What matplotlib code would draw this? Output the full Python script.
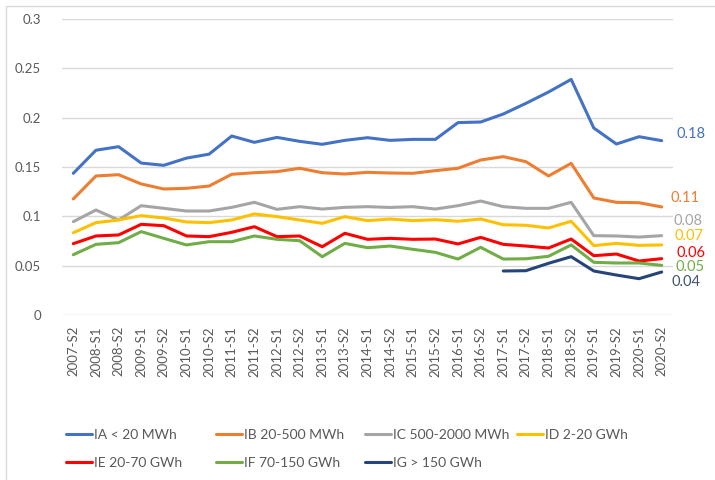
import matplotlib.pyplot as plt
from matplotlib.patches import Rectangle

plt.rcParams['font.family'] = ['Lato', 'DejaVu Sans']

periods = ['2007-S2'] + [f'{y}-S{h}' for y in range(2008, 2021) for h in (1, 2)]

ia = [0.1436, 0.167, 0.1706, 0.154, 0.1517, 0.159, 0.163, 0.1814, 0.175, 0.180,
      0.176, 0.173, 0.177, 0.1797, 0.177, 0.178, 0.178, 0.195, 0.1956, 0.2037,
      0.2145, 0.226, 0.2388, 0.1895, 0.1733, 0.1807, 0.1767]
ib = [0.1176, 0.1409, 0.1422, 0.1328, 0.1277, 0.1284, 0.1307, 0.1426, 0.1442, 0.1453,
      0.1487, 0.1442, 0.1429, 0.1446, 0.1439, 0.1436, 0.1463, 0.1487, 0.1571, 0.1605,
      0.1554, 0.1409, 0.1537, 0.1186, 0.1142, 0.1138, 0.1095]
ic = [0.0946, 0.1064, 0.0963, 0.1108, 0.1081, 0.1054, 0.1054, 0.1091, 0.1142, 0.1071,
      0.1098, 0.1074, 0.1091, 0.1098, 0.109, 0.1098, 0.1074, 0.1108, 0.1155, 0.1098,
      0.1081, 0.1081, 0.1142, 0.0804, 0.0801, 0.079, 0.0804]
id_ = [0.0834, 0.0936, 0.0963, 0.1007, 0.0983, 0.0943, 0.0936, 0.0963, 0.1024, 0.0997,
       0.0963, 0.0929, 0.0997, 0.0956, 0.0973, 0.0956, 0.0966, 0.095, 0.0973, 0.0915,
       0.0909, 0.0882, 0.095, 0.0703, 0.0726, 0.0706, 0.071]
ie = [0.0723, 0.0801, 0.0811, 0.0919, 0.0905, 0.0801, 0.0794, 0.0838, 0.0895, 0.0794,
      0.0801, 0.0692, 0.0828, 0.0767, 0.0777, 0.0767, 0.077, 0.072, 0.0787, 0.0716,
      0.0699, 0.0679, 0.077, 0.0601, 0.0618, 0.0547, 0.0571]
if_ = [0.0611, 0.0716, 0.0733, 0.0845, 0.0777, 0.071, 0.0743, 0.0743, 0.0801, 0.0767,
       0.0753, 0.0591, 0.0726, 0.0682, 0.0699, 0.0666, 0.0635, 0.0567, 0.0686, 0.0567,
       0.057, 0.0595, 0.071, 0.0534, 0.0527, 0.0527, 0.0503]
# IG only reported from 2017-S1 onwards
ig = [None] * 19 + [0.0446, 0.0449, 0.0524, 0.0591, 0.0446, 0.0405, 0.0368, 0.0436]

names = ['IA < 20 MWh', 'IB 20-500 MWh', 'IC 500-2000 MWh', 'ID 2-20 GWh',
         'IE 20-70 GWh', 'IF 70-150 GWh', 'IG > 150 GWh']
series = [ia, ib, ic, id_, ie, if_, ig]
colors = ['#4472C4', '#ED7D31', '#A5A5A5', '#FFC000', '#FF0000', '#70AD47', '#264478']
label_colors = ['#4472C4', '#ED7D31', '#A5A5A5', '#FFC000', '#FF0000', '#70AD47', '#44546A']
# end label offsets (pixels) from the last point of each series
label_offsets = [(15, 7), (9, 9), (12, 15), (13, 9), (15, 6), (14, -2), (10, -10)]
# legend entry anchors (figure pixels: x of handle start, y from top)
legend_pos = [(66, 435), (216, 435), (365, 435), (517, 435),
              (66, 463), (216, 463), (365, 463)]

W, H = 715, 480
fig = plt.figure(figsize=(W / 100, H / 100), dpi=100)
fig.patches.append(Rectangle((6 / W, -0.1), 1.2, (H - 6) / H + 0.1,
                             transform=fig.transFigure, fill=False,
                             edgecolor='#D9D9D9', lw=1))

ax = fig.add_axes([62 / W, (H - 315) / H, (673 - 62) / W, (315 - 19) / H])
x = list(range(len(periods)))
handles = []
for vals, c in zip(series, colors):
    xs = [i for i, v in zip(x, vals) if v is not None]
    ys = [v for v in vals if v is not None]
    ln, = ax.plot(xs, ys, color=c, lw=2.2, solid_capstyle='round',
                  solid_joinstyle='round')
    handles.append(ln)

for vals, lc, (dx, dy) in zip(series, label_colors, label_offsets):
    ax.annotate(f'{vals[-1]:.2f}', xy=(x[-1], vals[-1]), xytext=(dx, dy),
                textcoords='offset pixels', ha='left', va='center',
                color=lc, fontsize=10.5)

ax.set_xlim(-0.5, len(periods) - 0.5)
ax.set_ylim(0, 0.3)
ax.set_yticks([0, 0.05, 0.1, 0.15, 0.2, 0.25, 0.3])
ax.set_yticklabels(['0', '0.05', '0.1', '0.15', '0.2', '0.25', '0.3'])
ax.set_xticks(x)
ax.set_xticklabels(periods, rotation=90, va='top', ha='center')
ax.tick_params(axis='both', length=0, colors='#595959', labelsize=9.5)
ax.tick_params(axis='y', pad=15)
ax.tick_params(axis='x', pad=8)
ax.grid(axis='y', color='#D9D9D9', lw=1)
ax.set_axisbelow(True)
for s in ax.spines.values():
    s.set_visible(False)

for h, name, (px, py) in zip(handles, names, legend_pos):
    fig.legend([h], [name], loc='center left',
               bbox_to_anchor=(px / W, 1 - py / H), frameon=False,
               fontsize=10, handlelength=1.9, handletextpad=0.15,
               borderpad=0, borderaxespad=0, labelcolor='#595959')

fig.savefig('out.png', dpi=100)
